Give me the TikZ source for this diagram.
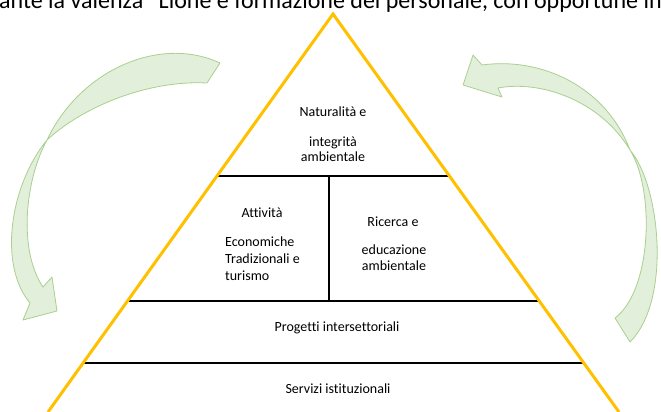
\documentclass[tikz,border=0pt]{standalone}
\usepackage{fontspec}
\setmainfont{Carlito}[Ligatures=NoCommon]
\usepackage{xcolor}
\usetikzlibrary{positioning,calc}
\definecolor{pyramid}{RGB}{255,192,0}
\definecolor{arrowfill}{RGB}{226,239,218}
\definecolor{arrowedge}{RGB}{169,208,142}

\begin{document}
\begin{tikzpicture}[x=1pt, y=-1pt,
  side/.style={draw=pyramid, line width=3pt},
  level/.style={draw=black, line width=1.8pt},
  label/.style={font=\fontsize{14}{15.5}\selectfont, inner sep=0pt, align=center},
  cycle arrow/.style={fill=arrowfill, draw=arrowedge, line width=0.8pt, line join=round}]
        \clip (0,0) rectangle (661,412);

        % Header (cut off)
        \node [anchor=base west, inner sep=0pt, font=\fontsize{24}{26}\selectfont] (header) at (-1,8.5)
            {ante la valenza “Lione e formazione del personale, con opportune int};

        % Pyramid
        \coordinate (apex) at (333,14);
        \coordinate (bl) at (48,412);
        \coordinate (br) at (619,412);
        \coordinate (l1) at ($(apex)!0.407!(bl)$);
        \coordinate (r1) at ($(apex)!0.407!(br)$);
        \coordinate (l2) at ($(apex)!0.7211!(bl)$);
        \coordinate (r2) at ($(apex)!0.7211!(br)$);
        \coordinate (l3) at ($(apex)!0.8769!(bl)$);
        \coordinate (r3) at ($(apex)!0.8769!(br)$);
        \coordinate (mtop) at (329,176);
        \coordinate (mbot) at (329,301);

        \path [level] (l1) -- (r1);
        \path [level] (l2) -- (r2);
        \path [level] (l3) -- (r3);
        \path [level] (mtop) -- (mbot);
        \path [side] (bl) -- (apex) -- (br);

        % Nodes
        \node [label] (nat) at (333,112) {Naturalità e};
        \node [label] (natsub) at (333,149) {integrità\\ambientale};
        \node [label] (att) at (262,213) {Attività};
        \node [label, align=left, anchor=west, font=\fontsize{14}{17}\selectfont] (attsub) at (225,259) {Economiche\\Tradizionali e\\turismo};
        \node [label] (ric) at (393,222) {Ricerca e};
        \node [label, font=\fontsize{14}{16}\selectfont] (ricsub) at (394,258) {educazione\\ambientale};
        \node [label] (prog) at (337,328) {Progetti intersettoriali};
        \node [label] (serv) at (338,389) {Servizi istituzionali};

        % Arrows
        \path [cycle arrow] (220,63) .. controls (160,35) and (80,70) .. (47,140)
            .. controls (10,185) and (-2,265) .. (30,303)
            -- (23,320) -- (57,311) -- (52,277) -- (43,287)
            .. controls (18,250) and (25,180) .. (47,140)
            .. controls (85,105) and (150,80) .. (207,83) -- cycle;
        \path [cycle arrow] (482,65) .. controls (540,57) and (605,85) .. (630,150)
            .. controls (660,185) and (672,300) .. (630,342)
            -- (615,318)
            .. controls (652,290) and (655,190) .. (630,150)
            .. controls (600,100) and (540,80) .. (498,88)
            -- (502,97) -- (463,85) -- (473,55) -- cycle;
    \end{tikzpicture}
\end{document}
